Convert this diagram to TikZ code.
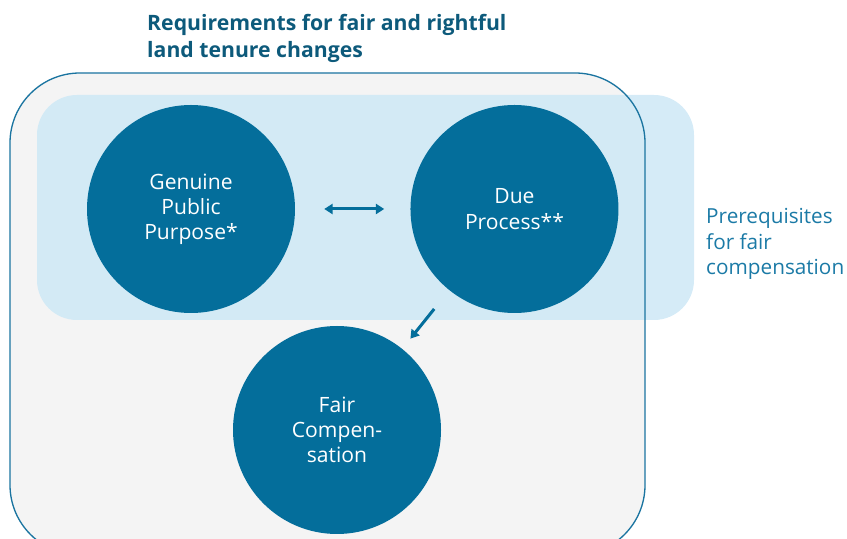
\documentclass[tikz,border=0pt]{standalone}
\usepackage{fontspec}
\setmainfont{Open Sans}
\usepackage{tikz}
\usetikzlibrary{arrows.meta, positioning}
\definecolor{discblue}{RGB}{4,110,155}
\definecolor{titleblue}{RGB}{13,90,123}
\definecolor{labelblue}{RGB}{27,122,166}
\definecolor{bandblue}{RGB}{208,233,246}
\definecolor{panelgrey}{RGB}{244,244,244}
\definecolor{panelline}{RGB}{26,116,160}

\begin{document}
\begin{tikzpicture}[>={Triangle[length=0.25cm, width=0.3cm]},
        disc/.style={circle, fill=discblue, minimum size=6.24cm, inner sep=0pt,
                     text=white, align=center, font=\fontsize{18}{21.5}\selectfont},
        link/.style={draw=discblue, line width=0.09cm}]

      \useasboundingbox (0,0) rectangle (25.41,16.17);
      \clip (0,0) rectangle (25.41,16.17);

      \fill[panelgrey, rounded corners=2.1cm] (0.3,-0.48) rectangle (19.35,13.98);
      \fill[bandblue, opacity=0.9, rounded corners=1.2cm] (1.11,6.57) rectangle (20.82,13.32);
      \draw[panelline, line width=0.04cm, rounded corners=2.1cm] (0.3,-0.48) rectangle (19.35,13.98);

      \node[disc] (gpp) at (5.73,9.90) {Genuine\\Public\\Purpose*};
      \node[disc, right=3.45cm of gpp] (dp) {Due\\Process**};
      \node[disc] (fc) at (10.11,3.27) {Fair\\Compen-\\sation};

      \draw[link, <->, shorten <=0.87cm, shorten >=0.78cm] (gpp) -- (dp);
      \draw[link, ->, shorten <=0.72cm, shorten >=0.39cm] (dp) -- (fc);

      \node[anchor=north west, align=left, inner sep=0pt, text=titleblue,
            font=\fontsize{18.1}{22.5}\selectfont\bfseries] (title) at (4.41,15.74)
            {Requirements for fair and rightful\\land tenure changes};
      \node[anchor=west, align=left, inner sep=0pt, text=labelblue,
            font=\fontsize{17.7}{21.8}\selectfont] (prereq) at (21.18,8.85)
            {Prerequisites\\for fair\\compensation};
    \end{tikzpicture}
\end{document}
